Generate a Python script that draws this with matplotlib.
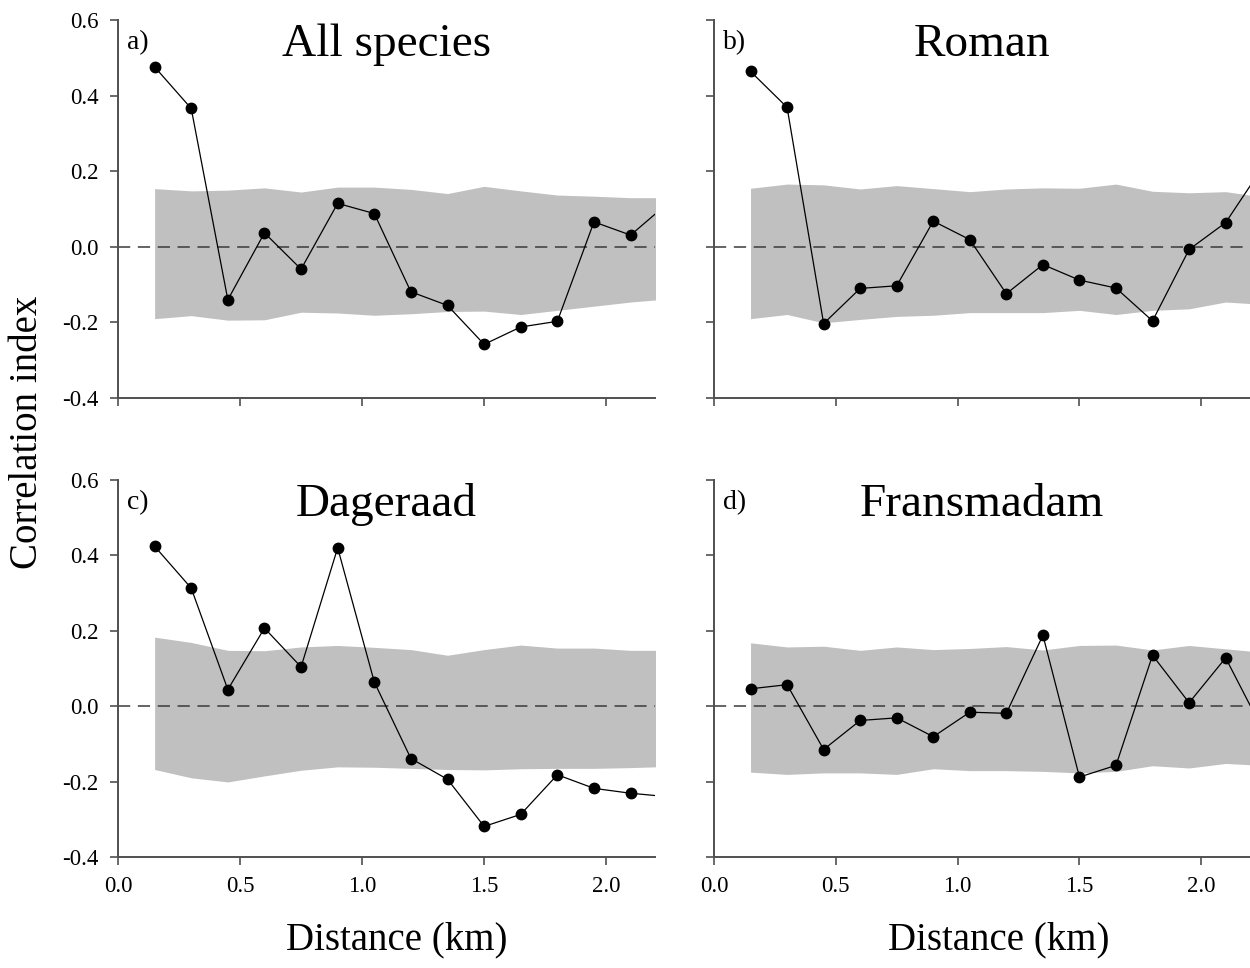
import numpy as np
import matplotlib
matplotlib.use('Agg')
import matplotlib.pyplot as plt

plt.rcParams['font.family'] = ['Liberation Serif', 'DejaVu Serif']

# distance classes (km), last one sits past the axis edge
dist = [0.15, 0.30, 0.45, 0.60, 0.75, 0.90, 1.05, 1.20, 1.35, 1.50, 1.65, 1.80, 1.95, 2.10, 2.25]

names = ['All species', 'Roman', 'Dageraad', 'Fransmadam']
letters = ['a)', 'b)', 'c)', 'd)']

# observed correlation index
corr_all = [0.476, 0.366, -0.140, 0.037, -0.059, 0.115, 0.088, -0.119, -0.155, -0.258, -0.212, -0.197, 0.066, 0.031, 0.114]
corr_roman = [0.464, 0.369, -0.203, -0.110, -0.103, 0.068, 0.019, -0.124, -0.047, -0.088, -0.109, -0.196, -0.007, 0.064, 0.209]
corr_dag = [0.424, 0.313, 0.044, 0.207, 0.104, 0.420, 0.064, -0.139, -0.194, -0.319, -0.287, -0.182, -0.218, -0.231, -0.240]
corr_frans = [0.046, 0.057, -0.115, -0.038, -0.031, -0.081, -0.016, -0.019, 0.188, -0.188, -0.157, 0.135, 0.009, 0.128, -0.060]

# null envelope (upper / lower)
up_all = [0.154, 0.148, 0.150, 0.156, 0.145, 0.158, 0.158, 0.152, 0.141, 0.160, 0.148, 0.137, 0.134, 0.130, 0.130]
lo_all = [-0.190, -0.182, -0.194, -0.193, -0.173, -0.175, -0.181, -0.177, -0.171, -0.170, -0.179, -0.168, -0.157, -0.146, -0.138]
up_roman = [0.155, 0.166, 0.164, 0.153, 0.162, 0.154, 0.146, 0.153, 0.156, 0.155, 0.166, 0.147, 0.143, 0.146, 0.132]
lo_roman = [-0.190, -0.179, -0.201, -0.192, -0.184, -0.181, -0.174, -0.174, -0.174, -0.168, -0.179, -0.168, -0.164, -0.146, -0.152]
up_dag = [0.183, 0.169, 0.148, 0.147, 0.157, 0.161, 0.156, 0.150, 0.135, 0.150, 0.162, 0.154, 0.154, 0.148, 0.148]
lo_dag = [-0.168, -0.190, -0.201, -0.185, -0.170, -0.161, -0.162, -0.165, -0.168, -0.169, -0.166, -0.165, -0.165, -0.163, -0.160]
up_frans = [0.168, 0.157, 0.159, 0.148, 0.157, 0.150, 0.153, 0.158, 0.149, 0.161, 0.162, 0.149, 0.161, 0.152, 0.143]
lo_frans = [-0.175, -0.181, -0.177, -0.177, -0.181, -0.166, -0.171, -0.171, -0.173, -0.177, -0.173, -0.158, -0.164, -0.152, -0.157]

corrs = [corr_all, corr_roman, corr_dag, corr_frans]
uppers = [up_all, up_roman, up_dag, up_frans]
lowers = [lo_all, lo_roman, lo_dag, lo_frans]

fig = plt.figure(figsize=(12.5, 9.68), dpi=100)

# [left, bottom, width, height] for a, b, c, d
boxes = [[0.0944, 0.5888, 0.4296, 0.3905],
         [0.5712, 0.5888, 0.4288, 0.3905],
         [0.0944, 0.1147, 0.4296, 0.3895],
         [0.5712, 0.1147, 0.4288, 0.3895]]

for i in range(4):
    ax = fig.add_axes(boxes[i])
    ax.fill_between(dist, lowers[i], uppers[i], color='#c0c0c0', lw=0, zorder=1)
    ax.axhline(0, color='#3a3a3a', lw=1.1, dashes=(8, 5), zorder=2)
    ax.plot(dist, corrs[i], '-o', color='black', lw=0.9, markersize=7.5, zorder=3)

    ax.set_xlim(0, 2.2)
    ax.set_ylim(-0.4, 0.6)
    ax.set_xticks([0.0, 0.5, 1.0, 1.5, 2.0])
    ax.set_yticks([-0.4, -0.2, 0.0, 0.2, 0.4, 0.6])
    ax.set_xticklabels(['0.0', '0.5', '1.0', '1.5', '2.0'])
    ax.set_yticklabels(['-0.4', '-0.2', '0.0', '0.2', '0.4', '0.6'])
    if i < 2:
        ax.tick_params(axis='x', labelbottom=False)
    if i % 2 == 1:
        ax.tick_params(axis='y', labelleft=False)

    for s in ['top', 'right']:
        ax.spines[s].set_visible(False)
    for s in ['left', 'bottom']:
        ax.spines[s].set_color('#505050')
        ax.spines[s].set_linewidth(1.4)
    ax.tick_params(direction='out', length=6, width=1.2, color='#505050',
                   labelsize=16.5, pad=8)

    ax.text(0.5, 0.934, names[i], transform=ax.transAxes, ha='center', va='center', fontsize=34)
    ax.text(0.017, 0.94, letters[i], transform=ax.transAxes, ha='left', va='center', fontsize=20)

fig.text(0.022, 1 - 432 / 968, 'Correlation index', rotation=90, ha='center', va='center', fontsize=28)
fig.text(397 / 1250, 1 - 940 / 968, 'Distance (km)', ha='center', va='center', fontsize=28)
fig.text(999 / 1250, 1 - 940 / 968, 'Distance (km)', ha='center', va='center', fontsize=28)

fig.savefig('out.png', dpi=100)
